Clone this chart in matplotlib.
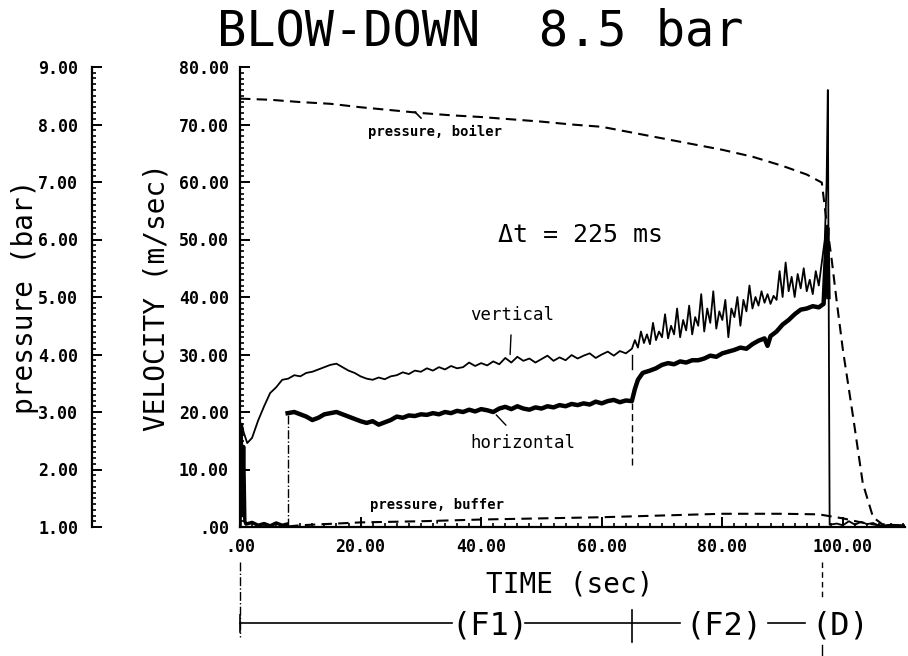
import matplotlib
matplotlib.use("Agg")
import matplotlib.pyplot as plt
from matplotlib.ticker import MultipleLocator, FuncFormatter
from matplotlib.transforms import blended_transform_factory

boiler_t = [0, 5, 10, 15, 20, 25, 30, 35, 40, 45, 50, 55, 60, 65, 70, 75, 80, 85, 90, 94,
            96.5, 97.3, 98.2, 99, 100, 101.7, 103.3, 105, 106.5, 110.3]
boiler_p = [8.45, 8.43, 8.39, 8.36, 8.30, 8.25, 8.20, 8.16, 8.13, 8.09, 8.05, 8.00, 7.96,
            7.86, 7.76, 7.66, 7.56, 7.44, 7.28, 7.13, 6.99, 6.30, 5.60, 4.90, 4.08, 2.91,
            1.76, 1.17, 1.05, 1.01]

buffer_t = [8, 10, 20, 30, 40, 50, 60, 70, 80, 90, 96, 100, 103, 106, 110.3]
buffer_p = [1.01, 1.03, 1.08, 1.10, 1.13, 1.15, 1.17, 1.20, 1.23, 1.23, 1.22, 1.15, 1.08, 1.03, 1.01]

vert_t = [0.0, 0.3, 0.6, 1.2, 2, 3, 4, 5, 6, 7, 8, 9, 10, 11, 12, 13, 14, 15, 16, 17, 18, 19,
          20, 21, 22, 23, 24, 25, 26, 27, 28, 29, 30, 31, 32, 33, 34, 35, 36, 37, 38, 39, 40,
          41, 42, 43, 44, 45, 46, 47, 48, 49, 50, 51, 52, 53, 54, 55, 56, 57, 58, 59, 60, 61,
          62, 63, 64, 65,
          65.5, 66, 66.5, 67, 67.5, 68, 68.5, 69, 69.5, 70, 70.5, 71, 71.5, 72, 72.5, 73, 73.5,
          74, 74.5, 75, 75.5, 76, 76.5, 77, 77.5, 78, 78.5, 79, 79.5, 80, 80.5, 81, 81.5, 82,
          82.5, 83, 83.5, 84, 84.5, 85, 85.5, 86, 86.5, 87, 87.5, 88, 88.5, 89, 89.5, 90, 90.5,
          91, 91.5, 92, 92.5, 93, 93.5, 94, 94.5, 95, 95.5, 96, 96.5, 97, 97.3, 97.5, 97.8,
          99, 100, 101, 102, 103, 104, 105, 106, 108, 110.3]
vert_v = [0, 18, 16.5, 14.6, 15.5, 18.5, 21, 23.3, 24.3, 25.6, 25.8, 26.4, 26.2, 26.8, 27.0,
          27.4, 27.8, 28.2, 28.4, 27.8, 27.2, 26.8, 26.2, 25.8, 25.6, 26.0, 25.7, 26.2, 26.4,
          26.9, 26.6, 27.2, 27.0, 27.6, 27.2, 27.8, 27.4, 28.0, 27.6, 27.8, 28.6, 28.0, 28.5,
          28.1, 28.8, 28.3, 29.4, 28.6, 29.6, 28.9, 29.3, 28.6, 29.2, 29.8, 28.9, 29.5, 29.0,
          29.9, 29.3, 29.8, 30.2, 29.4, 30.0, 30.5, 29.8, 30.6, 30.2, 31.0,
          32.5, 31.2, 34.0, 32.0, 33.5, 31.8, 35.5, 32.5, 34.0, 33.0, 37.0, 32.8, 35.0, 33.5,
          38.0, 33.0, 36.0, 34.2, 38.5, 33.5, 36.5, 35.0, 40.5, 34.0, 38.0, 35.5, 41.0, 34.5,
          37.5, 36.0, 39.5, 33.0, 38.0, 36.5, 40.0, 35.0, 39.5, 37.5, 42.0, 38.0, 40.0, 38.5,
          41.0, 39.0, 40.5, 38.8, 40.2, 39.5, 44.5, 40.0, 46.0, 41.0, 43.5, 40.0, 44.0, 41.5,
          45.0, 41.0, 43.0, 40.5, 44.5, 42.0, 46.0, 50.0, 60.0, 76.0, 0.4,
          0.6, 0.3, 1.0, 0.4, 0.9, 0.5, 0.7, 0.2, 0.4, 0.3]

horiz_pre_t = [0, 0.2, 0.4, 0.6, 0.8, 1.0, 2, 3, 4, 5, 6, 7, 7.8]
horiz_pre_v = [0, 17, 2, 14, 1, 0.5, 0.8, 0.3, 0.6, 0.2, 0.7, 0.3, 0.5]

horiz_t = [7.9, 9, 10, 11, 12, 13, 14, 15, 16, 17, 18, 19, 20, 21, 22, 23, 24, 25, 26, 27,
           28, 29, 30, 31, 32, 33, 34, 35, 36, 37, 38, 39, 40, 41, 42, 43, 44, 45, 46, 47, 48,
           49, 50, 51, 52, 53, 54, 55, 56, 57, 58, 59, 60, 61, 62, 63, 64, 65, 65.5, 66, 66.8,
           68, 69, 70, 71, 72, 73, 74, 75, 76, 77, 78, 79, 80, 81, 82, 83, 84, 85, 86, 87,
           87.5, 88, 89, 90, 91, 92, 93, 94, 95, 96, 96.8, 97.2, 97.4, 97.6]
horiz_v = [19.8, 20.0, 19.6, 19.2, 18.6, 19.0, 19.6, 19.8, 20.0, 19.6, 19.2, 18.8, 18.4, 18.1,
           18.4, 17.8, 18.2, 18.6, 19.2, 19.0, 19.4, 19.3, 19.6, 19.5, 19.8, 19.6, 20.0, 19.8,
           20.2, 20.0, 20.4, 20.1, 20.5, 20.3, 20.0, 20.6, 20.9, 20.5, 21.0, 20.6, 20.4, 20.8,
           20.6, 21.0, 20.8, 21.2, 21.0, 21.4, 21.2, 21.5, 21.3, 21.8, 21.5, 21.9, 22.1, 21.7,
           22.0, 21.9, 24.0, 25.6, 26.8, 27.2, 27.6, 28.2, 28.5, 28.3, 28.8, 28.6, 29.0, 29.0,
           29.3, 29.8, 29.6, 30.2, 30.5, 30.8, 31.2, 31.0, 31.8, 32.4, 32.8, 31.5, 33.2, 34.0,
           35.2, 36.0, 37.0, 37.8, 38.0, 38.4, 38.2, 38.8, 48.0, 52.0, 40.0]

# Phasen: Beginn F1, Beginn F2, Beginn D
phase_t = [0, 65, 96.5]
phase_names = ["(F1)", "(F2)", "(D)"]
phase_label_t = [41.5, 80.3, 99.5]

mono = "DejaVu Sans Mono"
plt.rcParams["font.family"] = mono

fig = plt.figure(figsize=(9.08, 6.56), dpi=100)
ax = fig.add_axes([240 / 908, 1 - 527 / 656, 665 / 908, 460 / 656])
ax2 = ax.twinx()

ax.set_xlim(0, 110.3)
ax.set_ylim(0, 80)
ax2.set_ylim(1, 9)

for s in ["top", "right"]:
    ax.spines[s].set_visible(False)
for s in ["top", "right", "bottom"]:
    ax2.spines[s].set_visible(False)
ax2.spines["left"].set_visible(True)
ax2.spines["left"].set_position(("outward", 148 * 0.72))
ax2.yaxis.set_ticks_position("left")
ax2.yaxis.set_label_position("left")
for sp in list(ax.spines.values()) + [ax2.spines["left"]]:
    sp.set_linewidth(1.6)

# Achsen / Ticks
ax.xaxis.set_major_locator(MultipleLocator(20))
ax.xaxis.set_minor_locator(MultipleLocator(2))
ax.yaxis.set_major_locator(MultipleLocator(10))
ax.yaxis.set_minor_locator(MultipleLocator(1))
ax2.yaxis.set_major_locator(MultipleLocator(1))
ax2.yaxis.set_minor_locator(MultipleLocator(0.1))

def fmt(v, pos):
    s = "%.2f" % v
    return s[1:] if s.startswith("0") else s

ax.xaxis.set_major_formatter(FuncFormatter(fmt))
ax.yaxis.set_major_formatter(FuncFormatter(fmt))
ax2.yaxis.set_major_formatter(FuncFormatter(fmt))

ax.tick_params(axis="both", which="major", direction="in", length=7, width=1.4,
               labelsize=12, pad=8)
ax.tick_params(axis="both", which="minor", direction="in", length=3, width=1.2)
ax2.tick_params(axis="y", which="major", direction="in", length=7, width=1.4,
                labelsize=12, pad=10)
ax2.tick_params(axis="y", which="minor", direction="in", length=3, width=1.2)
for lab in ax.get_xticklabels() + ax.get_yticklabels() + ax2.get_yticklabels():
    lab.set_fontweight("bold")

ax.set_ylabel("VELOCITY (m/sec)", fontsize=20)
ax.yaxis.set_label_coords(-0.105, 0.5)
ax2.set_ylabel("pressure (bar)", fontsize=20)
ax2.yaxis.set_label_coords(-0.302, 0.5)

# Kurven
ax2.plot(boiler_t, boiler_p, color="black", lw=1.5, ls=(0, (5, 3)))
ax2.plot(buffer_t, buffer_p, color="black", lw=1.5, ls=(0, (5, 3)))
ax.plot(vert_t, vert_v, color="black", lw=1.3)
ax.plot(horiz_pre_t, horiz_pre_v, color="black", lw=2.5)
ax.plot(horiz_t, horiz_v, color="black", lw=3.2)
ax.plot([horiz_t[0], horiz_t[0]], [0, horiz_v[0]], color="black", lw=1, ls="-.")
ax.plot([phase_t[1], phase_t[1]], [10.8, 21.5], color="black", lw=1, ls=(0, (5, 3)))
ax.plot([phase_t[1], phase_t[1]], [27.5, 30.0], color="black", lw=1)

# Beschriftungen im Diagramm
ax.text(56.4, 50.8, "Δt = 225 ms", fontsize=18, ha="center", va="center")
ax.annotate("vertical", xy=(44.8, 30.0), xytext=(45.1, 36.9), fontsize=12.5,
            ha="center", va="center",
            arrowprops=dict(arrowstyle="-", lw=1, shrinkA=6, shrinkB=0))
ax.annotate("horizontal", xy=(42.5, 19.5), xytext=(46.9, 14.6), fontsize=12.5,
            ha="center", va="center",
            arrowprops=dict(arrowstyle="-", lw=1, shrinkA=6, shrinkB=0))
ax.annotate("pressure, boiler", xy=(29.0, 72.2), xytext=(32.3, 68.7), fontsize=10,
            fontweight="bold", ha="center", va="center",
            arrowprops=dict(arrowstyle="-", lw=1.2, shrinkA=4, shrinkB=0))
ax.annotate("pressure, buffer", xy=(32.7, 0.7), xytext=(32.7, 3.8), fontsize=10,
            fontweight="bold", ha="center", va="center",
            arrowprops=dict(arrowstyle="-", lw=1.2, shrinkA=4, shrinkB=0))

# Titel
fig.text(480 / 908, 1 - 45 / 656, "BLOW-DOWN  8.5 bar", fontsize=35, ha="center",
         va="baseline")

# Zeitachse und Phasen unter dem Diagramm
tr = blended_transform_factory(ax.transData, fig.transFigure)
def fy(py):
    return 1 - py / 656

ax.text(54.7, fy(585), "TIME (sec)", transform=tr, fontsize=20, ha="center", va="center")
ax.plot([phase_t[0]] * 2, [fy(562), fy(637)], transform=tr, color="black", lw=1,
        ls="-.", clip_on=False)
ax.plot([phase_t[0]] * 2, [fy(615), fy(632)], transform=tr, color="black", lw=1.2,
        clip_on=False)
ax.plot([phase_t[1]] * 2, [fy(610), fy(642)], transform=tr, color="black", lw=1.2,
        clip_on=False)
ax.plot([phase_t[2]] * 2, [fy(562), fy(600)], transform=tr, color="black", lw=1,
        ls=(0, (4, 3)), clip_on=False)
ax.plot([phase_t[2]] * 2, [fy(645), fy(656)], transform=tr, color="black", lw=1,
        clip_on=False)
line_y = fy(623)
ax.plot([phase_t[0], 35.2], [line_y] * 2, transform=tr, color="black", lw=1.2, clip_on=False)
ax.plot([47.3, 73.0], [line_y] * 2, transform=tr, color="black", lw=1.2, clip_on=False)
ax.plot([87.6, 93.7], [line_y] * 2, transform=tr, color="black", lw=1.2, clip_on=False)
for name, t in zip(phase_names, phase_label_t):
    ax.text(t, fy(626), name, transform=tr, fontsize=23, ha="center", va="center")

fig.savefig("out.png", dpi=100, facecolor="white")
